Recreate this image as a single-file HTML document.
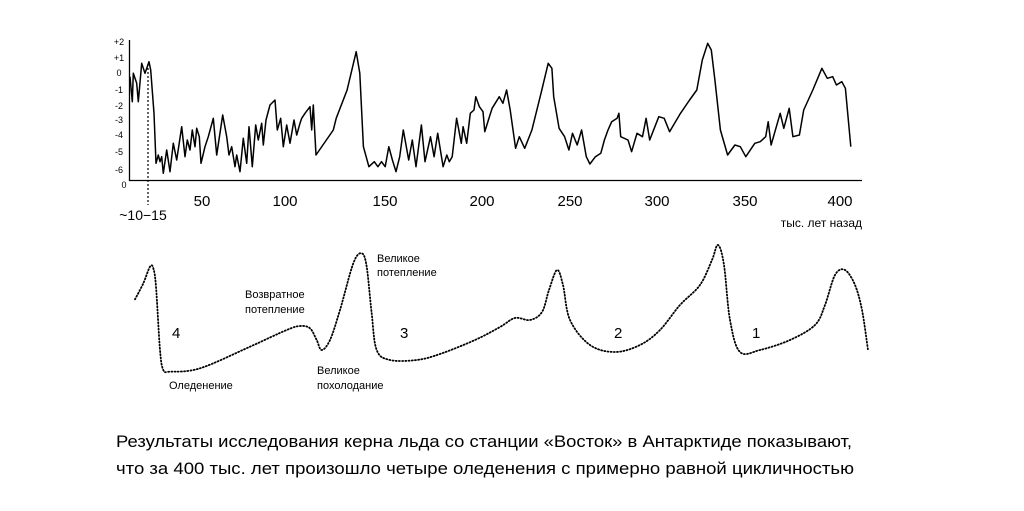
<!DOCTYPE html>
<html><head><meta charset="utf-8"><style>
html,body{margin:0;padding:0;background:#fff;}
svg{display:block;font-family:"Liberation Sans","DejaVu Sans",sans-serif;}
</style></head><body>
<svg id="s" width="1024" height="511" viewBox="0 0 1024 511" xmlns="http://www.w3.org/2000/svg">
<g font-size="9" fill="#000" text-anchor="middle">
<text x="119" y="45">+2</text><text x="119" y="61">+1</text><text x="119" y="76">0</text>
<text x="119" y="93">-1</text><text x="119" y="109">-2</text><text x="119" y="123">-3</text>
<text x="119" y="138">-4</text><text x="119" y="155">-5</text><text x="119" y="173">-6</text>
<text x="124" y="188">0</text>
</g>
<line x1="129.5" y1="40" x2="129.5" y2="181" stroke="#000" stroke-width="1.3"/>
<line x1="129" y1="180.5" x2="862" y2="180.5" stroke="#000" stroke-width="1.3"/>
<g font-size="15" text-anchor="middle">
<text x="202" y="206">50</text><text x="285" y="206">100</text><text x="385" y="206">150</text>
<text x="482" y="206">200</text><text x="570" y="206">250</text><text x="657" y="206">300</text>
<text x="745" y="206">350</text><text x="840" y="206">400</text>
</g>
<text x="143" y="220" font-size="14" text-anchor="middle">~10−15</text>
<text x="862" y="227" font-size="12" text-anchor="end">тыс.  лет назад</text>
<line x1="148" y1="64" x2="148" y2="205" stroke="#000" stroke-width="1.2" stroke-dasharray="2,2"/>
<polyline id="top" fill="none" stroke="#000" stroke-width="1.5" stroke-linejoin="round"/>
<path id="bot" fill="none" stroke="#000" stroke-width="1.8" stroke-dasharray="1,2.2" stroke-linecap="round"/>
<g font-size="11">
<text x="245" y="298">Возвратное</text><text x="245" y="313">потепление</text>
<text x="377" y="262">Великое</text><text x="377" y="276">потепление</text>
<text x="169" y="389">Оледенение</text>
<text x="317" y="374">Великое</text><text x="317" y="389">похолодание</text>
</g>
<g font-size="15">
<text x="172" y="338">4</text><text x="400" y="338">3</text><text x="614" y="338">2</text><text x="752" y="338">1</text>
</g>
<g font-size="17" font-family="'Liberation Sans Narrow','Liberation Sans',sans-serif">
<text x="116" y="447" textLength="736" lengthAdjust="spacingAndGlyphs">Результаты исследования керна льда со станции «Восток» в Антарктиде показывают,</text>
<text x="116" y="474" textLength="738" lengthAdjust="spacingAndGlyphs">что за 400 тыс. лет произошло четыре оледенения с примерно равной цикличностью</text>
</g>
</svg>
<script>
var z1=[[90,140],[97,215],[100,130],[110,160],[115,215],[125,100],[135,130],[147,95],[152,120],[162,250],[168,400],[175,375],[180,395],[185,380],[190,430],[200,360],[210,425],[220,340],[230,390],[245,290],[255,380],[262,330],[270,360],[277,300],[285,350],[290,295],[298,320],[303,400],[315,350],[325,320],[340,265],[350,375],[368,255],[380,320],[387,375],[395,350],[405,410],[410,375],[420,425],[430,325],[440,400],[447,290],[457,410],[467,285],[475,330],[485,280],[490,345],[498,270],[510,225],[525,210],[532,300],[542,265],[550,350],[560,285],[570,340],[582,270],[590,315],[600,280],[605,265],[615,250],[630,230],[635,300],[640,225],[648,375],[700,300]];
var z3=[[100,265],[130,180],[155,65],[165,130],[175,350],[190,410],[205,395],[215,410],[225,395],[235,410],[245,350],[255,390],[265,425],[275,380],[285,300],[300,390],[310,330],[320,410],[335,285],[345,395],[360,320],[370,380],[380,310],[395,410],[405,375],[412,395],[420,380],[432,265],[445,340],[450,290],[460,340],[470,250],[480,240],[485,200],[495,230],[505,245],[510,305],[520,270],[530,235],[550,200],[560,220],[570,180],[580,240],[595,355],[605,320],[620,355],[640,300],[665,190],[685,100],[695,115],[700,200],[715,295],[730,320],[742,360],[752,310],[765,345],[777,300],[790,380],[800,402],[815,380],[830,370],[840,330],[850,300],[860,275],[875,265],[880,250],[885,320],[905,330],[915,365],[930,310],[945,320],[955,265],[965,330],[990,260],[1005,265],[1020,305],[1050,250],[1075,210],[1095,180],[1110,90],[1125,40],[1135,60],[1145,150],[1160,300],[1180,375],[1200,345],[1215,350],[1230,380],[1255,340],[1270,335],[1285,320],[1292,275],[1300,345],[1325,250],[1335,295],[1350,235],[1360,320],[1378,315],[1390,240],[1415,180],[1440,115],[1455,145],[1470,140],[1480,165],[1495,155],[1505,175],[1520,350]];
var p=[];
z1.forEach(function(a){p.push((100+a[0]/3).toFixed(1)+","+(30+a[1]/3).toFixed(1));});
z3.forEach(function(a){p.push((300+a[0]*0.3624).toFixed(1)+","+(30+a[1]/3).toFixed(1));});
document.getElementById("top").setAttribute("points",p.join(" "));
var b2=[[105,178],[130,130],[150,80],[160,85],[168,140],[180,330],[190,390],[210,395],[300,385],[450,320],[560,270],[600,258],[630,265],[650,300],[665,330],[690,300],[720,210],[760,70],[785,40],[800,80],[815,220],[830,330],[870,360],[950,360]];
var q=[];
b2.forEach(function(a){q.push([100+a[0]/3,240+a[1]/3]);});
var rest=[[440,354],[475,340],[500,327],[515,318],[530,320],[542,312],[549,290],[557,270],[563,285],[570,320],[590,345],[615,352],[640,345],[660,330],[680,305],[700,285],[712,260],[718,245],[724,265],[730,320],[740,352],[760,350],[790,340],[815,325],[825,305],[835,275],[845,270],[855,285],[862,310],[868,350]];
rest.forEach(function(a){q.push(a);});
var d="M"+q[0][0]+","+q[0][1];
for(var i=0;i<q.length-1;i++){
 var p0=q[Math.max(0,i-1)],p1=q[i],p2=q[i+1],p3=q[Math.min(q.length-1,i+2)];
 var c1x=p1[0]+(p2[0]-p0[0])/6,c1y=p1[1]+(p2[1]-p0[1])/6;
 var c2x=p2[0]-(p3[0]-p1[0])/6,c2y=p2[1]-(p3[1]-p1[1])/6;
 d+=" C"+c1x.toFixed(1)+","+c1y.toFixed(1)+" "+c2x.toFixed(1)+","+c2y.toFixed(1)+" "+p2[0].toFixed(1)+","+p2[1].toFixed(1);
}
document.getElementById("bot").setAttribute("d",d);
</script>
</body></html>
